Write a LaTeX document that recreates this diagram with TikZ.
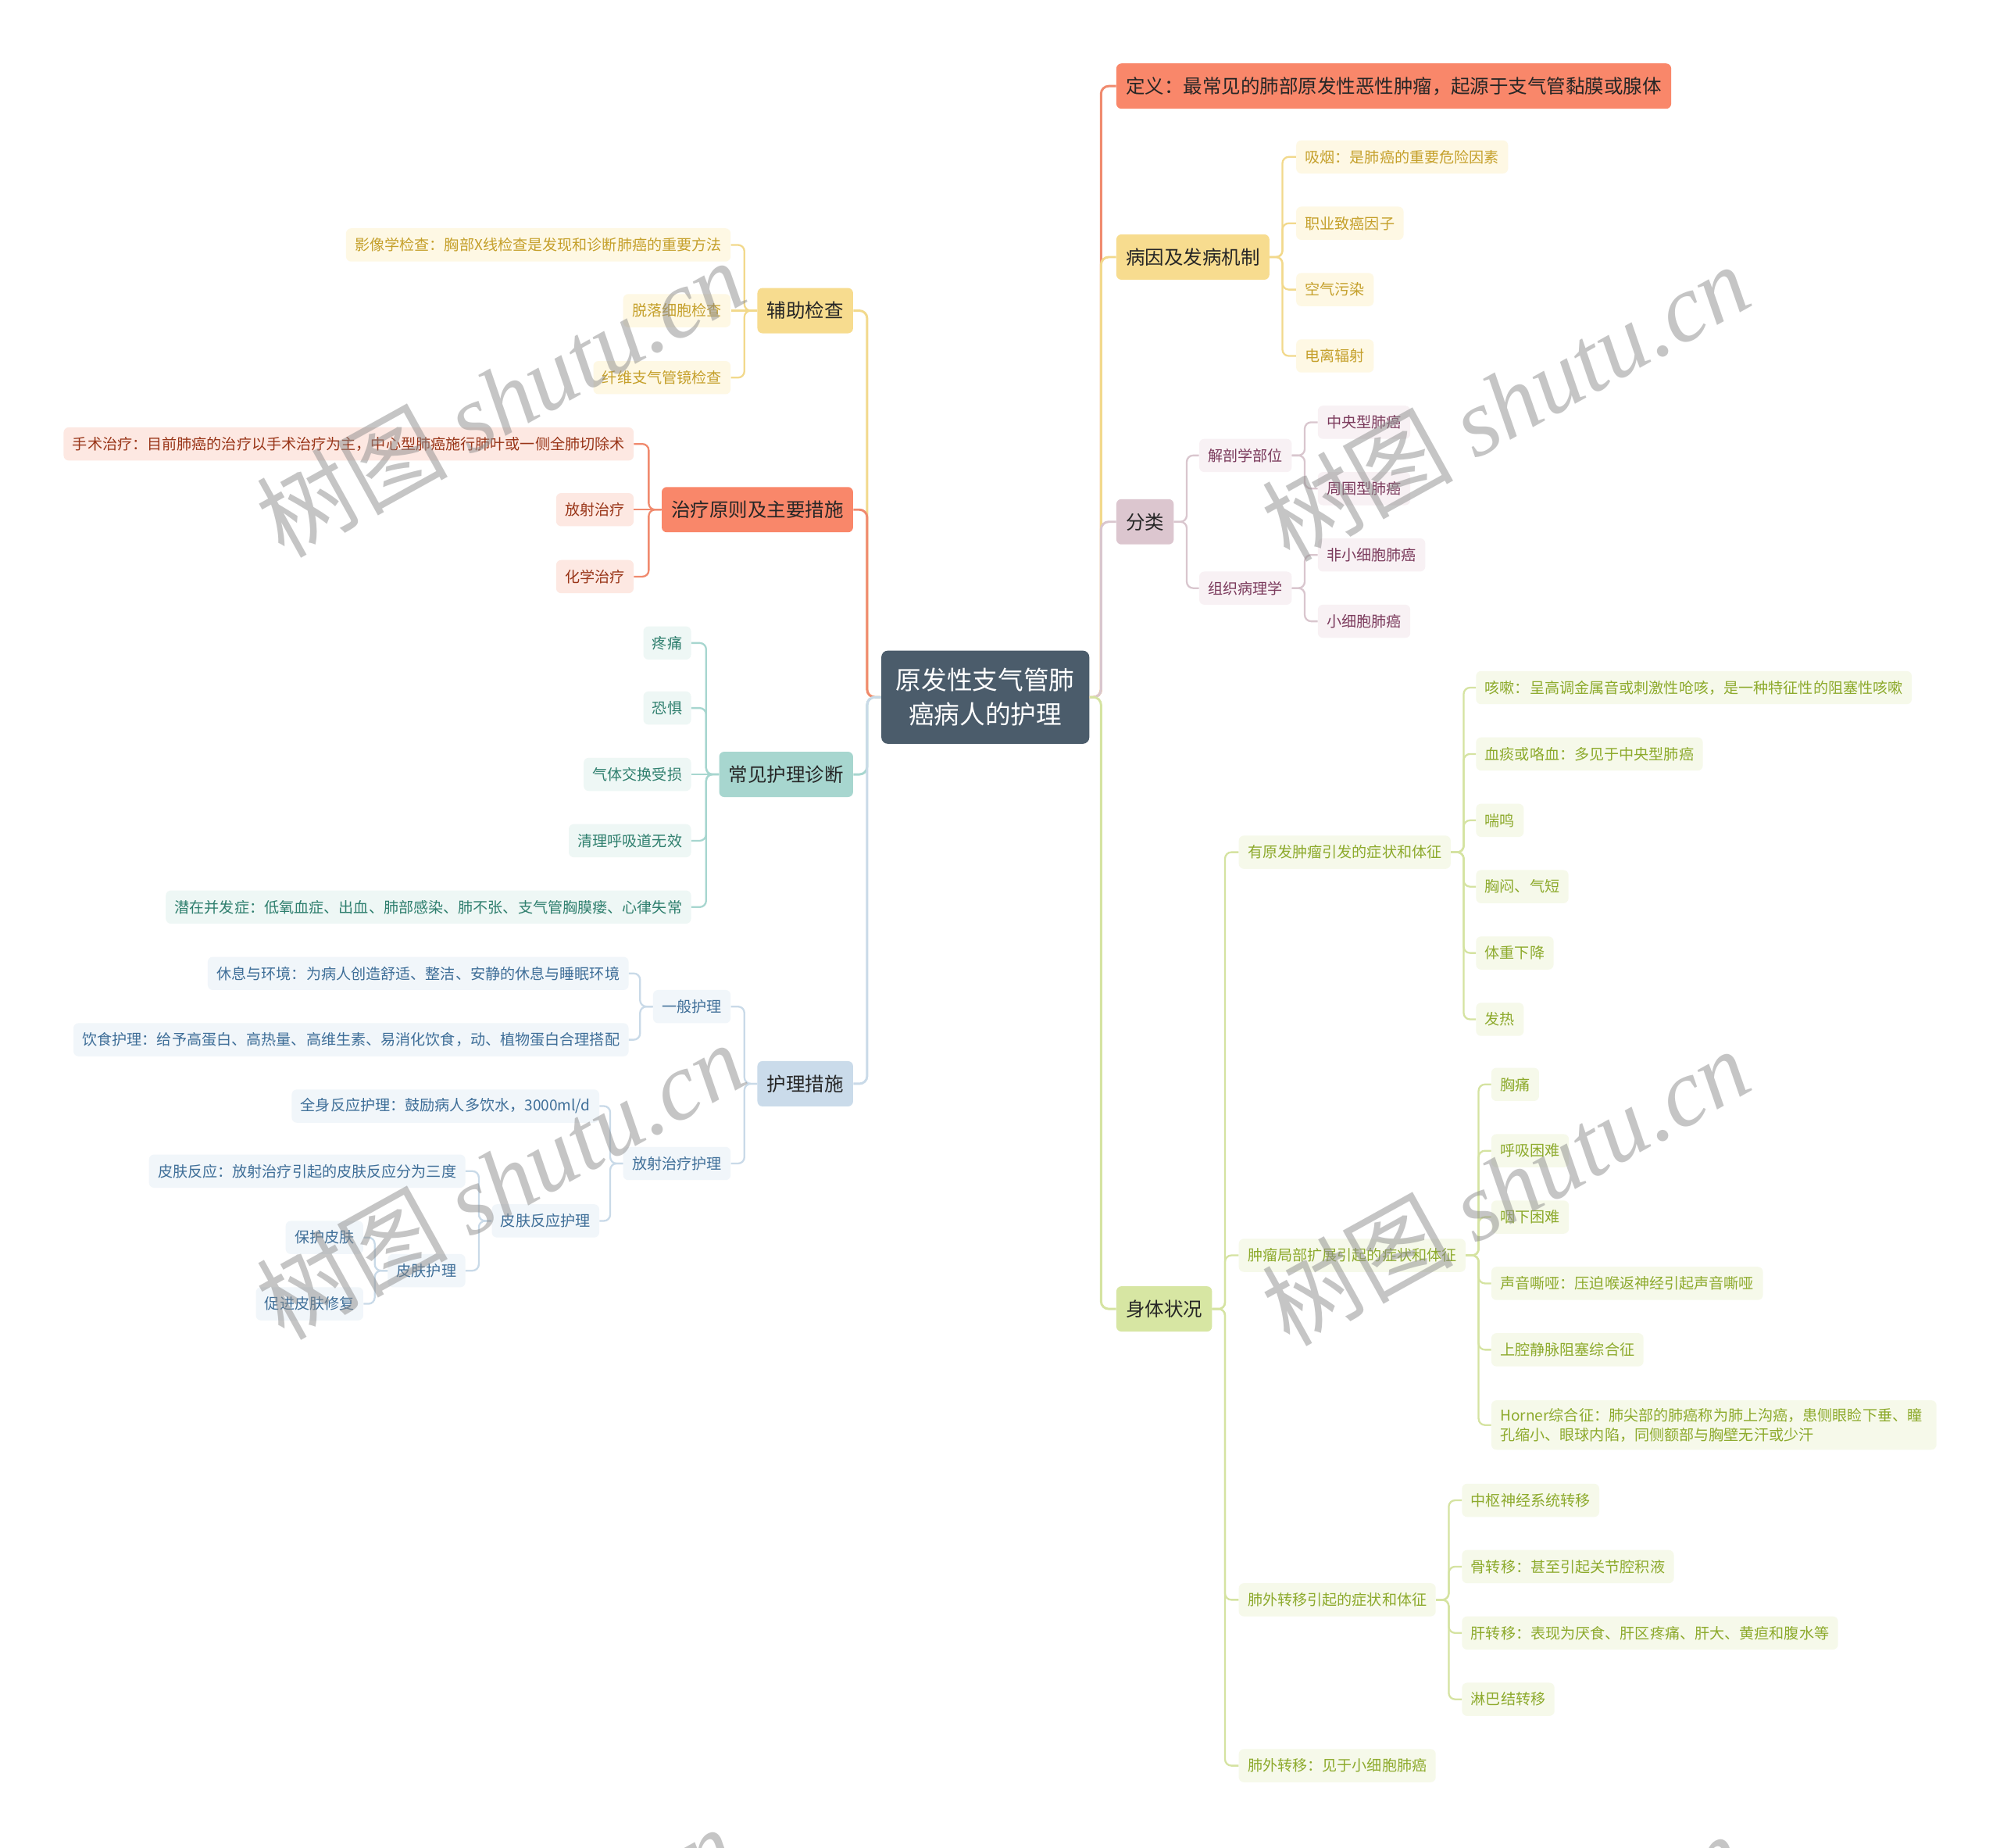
\documentclass[tikz,border=0pt]{standalone}
\usepackage{fontspec}
\setmainfont{Noto Sans CJK SC}
\newfontfamily\wmcjk{Noto Sans CJK SC}
\newfontfamily\wmlat{Liberation Serif}
\definecolor{rootc}{HTML}{4B5C6B}
\definecolor{corF}{HTML}{F9876A}\definecolor{corL}{HTML}{FDE8E2}\definecolor{corT}{HTML}{993518}\definecolor{corD}{HTML}{F08A6E}
\definecolor{yelF}{HTML}{F7DC8F}\definecolor{yelL}{HTML}{FEF8E4}\definecolor{yelT}{HTML}{C5A02B}\definecolor{yelD}{HTML}{F2D98C}
\definecolor{mauF}{HTML}{DCC6CF}\definecolor{mauL}{HTML}{F8F1F4}\definecolor{mauT}{HTML}{7B3A5C}\definecolor{mauD}{HTML}{D9C6CE}
\definecolor{greF}{HTML}{D7E6A3}\definecolor{greL}{HTML}{F6F9EA}\definecolor{greT}{HTML}{8DAA2C}\definecolor{greD}{HTML}{D5E3A1}
\definecolor{teaF}{HTML}{A7D6CF}\definecolor{teaL}{HTML}{EEF7F5}\definecolor{teaT}{HTML}{2F7F6E}\definecolor{teaD}{HTML}{A7D6CF}
\definecolor{bluF}{HTML}{CADBEA}\definecolor{bluL}{HTML}{F1F6FA}\definecolor{bluT}{HTML}{3E6E98}\definecolor{bluD}{HTML}{C9DAE8}
\newcommand\linkR[3]{\draw[lk=#1] (#2.east) -- ++(10,0) |- (#3.west);}
\newcommand\linkL[3]{\draw[lk=#1] (#2.west) -- ++(-10,0) |- (#3.east);}
\newcommand\linkRs[3]{\draw[lk=#1] (#2.east) -- (#3.west);}
\newcommand\linkLs[3]{\draw[lk=#1] (#2.west) -- (#3.east);}
\begin{document}
\begin{tikzpicture}[x=1pt,y=-1pt,
  base1/.style={rounded corners=4pt, inner xsep=7.5pt, inner ysep=0pt, minimum height=35.5pt, font=\fontsize{15}{18}\selectfont, text=black!85},
  base2/.style={rounded corners=4pt, inner xsep=7pt, inner ysep=0pt, minimum height=26pt, font=\fontsize{11.7}{15.5}\selectfont},
  cor1/.style={base1, fill=corF}, cor2/.style={base2, fill=corL, text=corT},
  yel1/.style={base1, fill=yelF}, yel2/.style={base2, fill=yelL, text=yelT},
  mau1/.style={base1, fill=mauF}, mau2/.style={base2, fill=mauL, text=mauT},
  gre1/.style={base1, fill=greF}, gre2/.style={base2, fill=greL, text=greT},
  tea1/.style={base1, fill=teaF}, tea2/.style={base2, fill=teaL, text=teaT},
  blu1/.style={base1, fill=bluF}, blu2/.style={base2, fill=bluL, text=bluT},
  root/.style={fill=rootc, text=white, rounded corners=5pt, minimum width=163pt, minimum height=73pt, align=center, font=\fontsize{20}{27}\selectfont},
  lk/.style={draw=#1, line width=1.4pt, rounded corners=5pt},
  lk1/.style={draw=#1, line width=1.8pt, rounded corners=6pt},
  wm/.style={rotate=29, text=black!45, opacity=0.5, inner sep=0pt}
]
\useasboundingbox (0,0) rectangle (1568,1448);
\fill[white] (0,0) rectangle (1568,1448);

% root
\node[root] (root) at (772.5,546.5) {原发性支气管肺\\癌病人的护理};

% ---------------- right side ----------------
\node[cor1,anchor=west] (r1) at (875,67.5) {定义：最常见的肺部原发性恶性肿瘤，起源于支气管黏膜或腺体};

\node[yel1,anchor=west] (r2) at (875,201.5) {病因及发病机制};
\node[yel2,anchor=west] (r2a) at (1016,123) {吸烟：是肺癌的重要危险因素};
\node[yel2,anchor=west] (r2b) at (1016,175) {职业致癌因子};
\node[yel2,anchor=west] (r2c) at (1016,227) {空气污染};
\node[yel2,anchor=west] (r2d) at (1016,279) {电离辐射};

\node[mau1,anchor=west] (r3) at (875,409) {分类};
\node[mau2,anchor=west] (r3a) at (940,357) {解剖学部位};
\node[mau2,anchor=west] (r3b) at (940,461) {组织病理学};
\node[mau2,anchor=west] (r3a1) at (1033,331) {中央型肺癌};
\node[mau2,anchor=west] (r3a2) at (1033,383) {周围型肺癌};
\node[mau2,anchor=west] (r3b1) at (1033,435) {非小细胞肺癌};
\node[mau2,anchor=west] (r3b2) at (1033,487) {小细胞肺癌};

\node[gre1,anchor=west] (r4) at (875,1026) {身体状况};
\node[gre2,anchor=west] (r4a) at (971,668) {有原发肿瘤引发的症状和体征};
\node[gre2,anchor=west] (r4b) at (971,984) {肿瘤局部扩展引起的症状和体征};
\node[gre2,anchor=west] (r4c) at (971,1254) {肺外转移引起的症状和体征};
\node[gre2,anchor=west] (r4d) at (971,1384) {肺外转移：见于小细胞肺癌};

\node[gre2,anchor=west] (a1) at (1157,539) {咳嗽：呈高调金属音或刺激性呛咳，是一种特征性的阻塞性咳嗽};
\node[gre2,anchor=west] (a2) at (1157,591) {血痰或咯血：多见于中央型肺癌};
\node[gre2,anchor=west] (a3) at (1157,643) {喘鸣};
\node[gre2,anchor=west] (a4) at (1157,695) {胸闷、气短};
\node[gre2,anchor=west] (a5) at (1157,747) {体重下降};
\node[gre2,anchor=west] (a6) at (1157,799) {发热};

\node[gre2,anchor=west] (b1) at (1169,850) {胸痛};
\node[gre2,anchor=west] (b2) at (1169,902) {呼吸困难};
\node[gre2,anchor=west] (b3) at (1169,954) {咽下困难};
\node[gre2,anchor=west] (b4) at (1169,1006) {声音嘶哑：压迫喉返神经引起声音嘶哑};
\node[gre2,anchor=west] (b5) at (1169,1058) {上腔静脉阻塞综合征};
\node[gre2,anchor=west,text width=335pt,align=left,inner ysep=6pt] (b6) at (1169,1117) {Horner综合征：肺尖部的肺癌称为肺上沟癌，患侧眼睑下垂、瞳\\孔缩小、眼球内陷，同侧额部与胸壁无汗或少汗};

\node[gre2,anchor=west] (c1) at (1146,1176) {中枢神经系统转移};
\node[gre2,anchor=west] (c2) at (1146,1228) {骨转移：甚至引起关节腔积液};
\node[gre2,anchor=west] (c3) at (1146,1280) {肝转移：表现为厌食、肝区疼痛、肝大、黄疸和腹水等};
\node[gre2,anchor=west] (c4) at (1146,1332) {淋巴结转移};

% ---------------- left side ----------------
\node[yel1,anchor=east] (l1) at (669,243.5) {辅助检查};
\node[yel2,anchor=east] (l1a) at (573,192) {影像学检查：胸部X线检查是发现和诊断肺癌的重要方法};
\node[yel2,anchor=east] (l1b) at (573,243.5) {脱落细胞检查};
\node[yel2,anchor=east] (l1c) at (573,296) {纤维支气管镜检查};

\node[cor1,anchor=east] (l2) at (669,399.5) {治疗原则及主要措施};
\node[cor2,anchor=east] (l2a) at (497,348) {手术治疗：目前肺癌的治疗以手术治疗为主，中心型肺癌施行肺叶或一侧全肺切除术};
\node[cor2,anchor=east] (l2b) at (497,399.5) {放射治疗};
\node[cor2,anchor=east] (l2c) at (497,452) {化学治疗};

\node[tea1,anchor=east] (l3) at (669,607) {常见护理诊断};
\node[tea2,anchor=east] (l3a) at (542,504) {疼痛};
\node[tea2,anchor=east] (l3b) at (542,555) {恐惧};
\node[tea2,anchor=east] (l3c) at (542,607) {气体交换受损};
\node[tea2,anchor=east] (l3d) at (542,659) {清理呼吸道无效};
\node[tea2,anchor=east] (l3e) at (542,711) {潜在并发症：低氧血症、出血、肺部感染、肺不张、支气管胸膜瘘、心律失常};

\node[blu1,anchor=east] (l4) at (669,849.5) {护理措施};
\node[blu2,anchor=east] (l4a) at (573,789) {一般护理};
\node[blu2,anchor=east] (l4b) at (573,912) {放射治疗护理};
\node[blu2,anchor=east] (l4a1) at (493,763) {休息与环境：为病人创造舒适、整洁、安静的休息与睡眠环境};
\node[blu2,anchor=east] (l4a2) at (493,815) {饮食护理：给予高蛋白、高热量、高维生素、易消化饮食，动、植物蛋白合理搭配};
\node[blu2,anchor=east] (l4b1) at (470,867) {全身反应护理：鼓励病人多饮水，3000ml/d};
\node[blu2,anchor=east] (l4b2) at (470,957) {皮肤反应护理};
\node[blu2,anchor=east] (l4c1) at (365,918) {皮肤反应：放射治疗引起的皮肤反应分为三度};
\node[blu2,anchor=east] (l4c2) at (365,996) {皮肤护理};
\node[blu2,anchor=east] (l4d1) at (285,970) {保护皮肤};
\node[blu2,anchor=east] (l4d2) at (285,1022) {促进皮肤修复};

% ---------------- connectors ----------------
\draw[lk1=corD] (root.east) -- ++(9,0) |- (r1.west);
\draw[lk1=yelD] (root.east) -- ++(9,0) |- (r2.west);
\draw[lk1=mauD] (root.east) -- ++(9,0) |- (r3.west);
\draw[lk1=greD] (root.east) -- ++(9,0) |- (r4.west);
\draw[lk1=yelD] (root.west) -- ++(-11,0) |- (l1.east);
\draw[lk1=corD] (root.west) -- ++(-11,0) |- (l2.east);
\draw[lk1=teaD] (root.west) -- ++(-11,0) |- (l3.east);
\draw[lk1=bluD] (root.west) -- ++(-11,0) |- (l4.east);

\linkR{yelD}{r2}{r2a}\linkR{yelD}{r2}{r2b}\linkR{yelD}{r2}{r2c}\linkR{yelD}{r2}{r2d}
\linkR{mauD}{r3}{r3a}\linkR{mauD}{r3}{r3b}
\linkR{mauD}{r3a}{r3a1}\linkR{mauD}{r3a}{r3a2}
\linkR{mauD}{r3b}{r3b1}\linkR{mauD}{r3b}{r3b2}
\linkR{greD}{r4}{r4a}\linkR{greD}{r4}{r4b}\linkR{greD}{r4}{r4c}\linkR{greD}{r4}{r4d}
\linkR{greD}{r4a}{a1}\linkR{greD}{r4a}{a2}\linkR{greD}{r4a}{a3}\linkR{greD}{r4a}{a4}\linkR{greD}{r4a}{a5}\linkR{greD}{r4a}{a6}
\linkR{greD}{r4b}{b1}\linkR{greD}{r4b}{b2}\linkR{greD}{r4b}{b3}\linkR{greD}{r4b}{b4}\linkR{greD}{r4b}{b5}\linkR{greD}{r4b}{b6}
\linkR{greD}{r4c}{c1}\linkR{greD}{r4c}{c2}\linkR{greD}{r4c}{c3}\linkR{greD}{r4c}{c4}

\linkL{yelD}{l1}{l1a}\linkLs{yelD}{l1}{l1b}\linkL{yelD}{l1}{l1c}
\linkL{corD}{l2}{l2a}\linkLs{corD}{l2}{l2b}\linkL{corD}{l2}{l2c}
\linkL{teaD}{l3}{l3a}\linkL{teaD}{l3}{l3b}\linkLs{teaD}{l3}{l3c}\linkL{teaD}{l3}{l3d}\linkL{teaD}{l3}{l3e}
\linkL{bluD}{l4}{l4a}\linkL{bluD}{l4}{l4b}
\linkL{bluD}{l4a}{l4a1}\linkL{bluD}{l4a}{l4a2}
\linkL{bluD}{l4b}{l4b1}\linkL{bluD}{l4b}{l4b2}
\linkL{bluD}{l4b2}{l4c1}\linkL{bluD}{l4b2}{l4c2}
\linkL{bluD}{l4c2}{l4d1}\linkL{bluD}{l4c2}{l4d2}

% ---------------- watermarks ----------------
\begin{scope}
\clip (0,0) rectangle (1568,1448);
\foreach \i/\wx/\wy in {1/392/312, 2/1180/315, 3/392/925, 4/1180/930, 5/385/1540, 6/1175/1545}{
  \node[wm] (wm\i) at (\wx,\wy) {\fontsize{75}{80}\selectfont\wmcjk 树图 \wmlat\itshape shutu.cn};
}
\end{scope}
\end{tikzpicture}
\end{document}
